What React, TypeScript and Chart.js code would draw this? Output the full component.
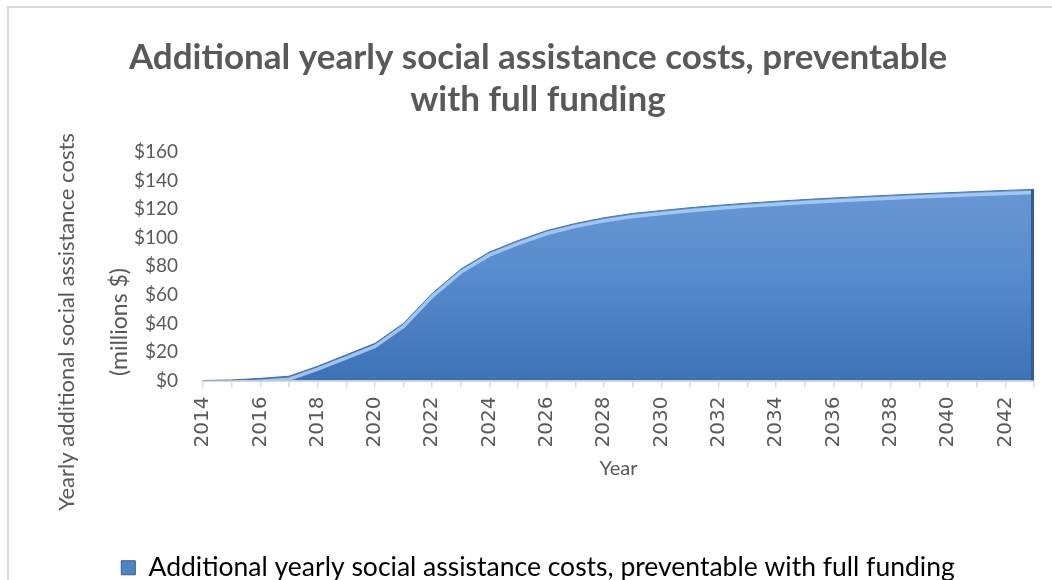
import React, { useEffect, useRef } from "react";
import { Chart, registerables } from "chart.js";

Chart.register(...registerables);

const years: string[] = [
  "2014","2015","2016","2017","2018","2019","2020","2021","2022","2023",
  "2024","2025","2026","2027","2028","2029","2030","2031","2032","2033",
  "2034","2035","2036","2037","2038","2039","2040","2041","2042","2043",
];
const costs: number[] = [
  0, 0.4, 1.5, 3, 10, 18, 26, 40, 61, 78,
  90, 98, 105, 110, 114, 117, 119, 121, 122.7, 124.2,
  125.5, 126.7, 127.8, 128.8, 129.8, 130.7, 131.5, 132.3, 133.1, 133.8,
];
const yTicks: number[] = [0, 20, 40, 60, 80, 100, 120, 140, 160];
const titleLines: string[] = [
  "Additional yearly social assistance costs, preventable",
  "with full funding",
];
const yTitleLines: string[] = ["Yearly additional social assistance costs", "(millions $)"];
const xTitle = "Year";
const seriesName = "Additional yearly social assistance costs, preventable with full funding";

const GRAY = "#595959";
const FONT = "Lato, 'Open Sans', sans-serif";

const bevelPlugin = {
  id: "bevel",
  afterDatasetsDraw(chart: any) {
    const meta = chart.getDatasetMeta(0);
    const pts = meta.data as any[];
    if (!pts.length) return;
    const ctx = chart.ctx as CanvasRenderingContext2D;
    const { left, right, top, bottom } = chart.chartArea;
    ctx.save();
    ctx.beginPath();
    ctx.rect(left, top - 10, right - left, bottom - top + 10);
    ctx.clip();
    ctx.beginPath();
    pts.forEach((p, i) => (i ? ctx.lineTo(p.x, p.y + 3) : ctx.moveTo(p.x, p.y + 3)));
    ctx.strokeStyle = "rgba(165,205,248,0.9)";
    ctx.lineWidth = 3.5;
    ctx.stroke();
    ctx.beginPath();
    pts.forEach((p, i) => (i ? ctx.lineTo(p.x, p.y) : ctx.moveTo(p.x, p.y)));
    ctx.strokeStyle = "#4a74a8";
    ctx.lineWidth = 1;
    ctx.stroke();
    const last = pts[pts.length - 1];
    ctx.beginPath();
    ctx.moveTo(last.x - 1.5, last.y);
    ctx.lineTo(last.x - 1.5, bottom);
    ctx.strokeStyle = "#2f5c94";
    ctx.lineWidth = 3;
    ctx.stroke();
    ctx.restore();
  },
};

const yTitlePlugin = {
  id: "yTitle",
  afterDraw(chart: any) {
    const ctx = chart.ctx as CanvasRenderingContext2D;
    const cy = chart.chartArea.top + 170;
    ctx.save();
    ctx.fillStyle = GRAY;
    ctx.textAlign = "center";
    ctx.textBaseline = "middle";
    const xs = [67, 120];
    const sizes = [22, 23];
    yTitleLines.forEach((t, i) => {
      ctx.save();
      ctx.font = `${sizes[i]}px ${FONT}`;
      ctx.translate(xs[i], cy);
      ctx.rotate(-Math.PI / 2);
      ctx.fillText(t, 0, 0);
      ctx.restore();
    });
    ctx.restore();
  },
};

const framePlugin = {
  id: "frame",
  beforeDraw(chart: any) {
    const ctx = chart.ctx as CanvasRenderingContext2D;
    ctx.save();
    ctx.fillStyle = "#ffffff";
    ctx.fillRect(0, 0, chart.width, chart.height);
    ctx.strokeStyle = "#d9d9d9";
    ctx.lineWidth = 2;
    ctx.beginPath();
    ctx.moveTo(8, chart.height);
    ctx.lineTo(8, 7);
    ctx.lineTo(chart.width, 7);
    ctx.stroke();
    ctx.restore();
  },
};

export default function App() {
  const ref = useRef<HTMLCanvasElement | null>(null);
  useEffect(() => {
    if (!ref.current) return;
    const chart = new Chart(ref.current, {
      type: "line",
      data: {
        labels: years,
        datasets: [
          {
            label: seriesName,
            data: costs,
            fill: "origin",
            tension: 0,
            pointRadius: 0,
            borderWidth: 0,
            borderColor: "rgba(0,0,0,0)",
            backgroundColor: (c: any) => {
              const area = c.chart.chartArea;
              if (!area) return "#4f86c6";
              const g = c.chart.ctx.createLinearGradient(0, area.top, 0, area.bottom);
              g.addColorStop(0, "#6e9bd5");
              g.addColorStop(0.5, "#5a8dcf");
              g.addColorStop(1, "#3d72b6");
              return g;
            },
          },
        ],
      },
      options: {
        responsive: false,
        animation: false,
        layout: { padding: { left: 42, right: 18, top: 0, bottom: -11 } },
        plugins: {
          title: {
            display: true,
            text: titleLines,
            color: GRAY,
            font: { family: FONT, size: 35, weight: "bold", lineHeight: 1.2 },
            padding: { top: 37, bottom: 31 },
          },
          legend: {
            position: "bottom",
            labels: {
              color: GRAY,
              font: { family: FONT, size: 26.5 },
              boxWidth: 14,
              boxHeight: 14,
              padding: 2,
              generateLabels: () => [
                {
                  text: seriesName,
                  fillStyle: "#4f83c4",
                  strokeStyle: "#2f5c94",
                  lineWidth: 1,
                  hidden: false,
                  datasetIndex: 0,
                } as any,
              ],
            },
          },
          tooltip: { enabled: false },
        },
        scales: {
          x: {
            type: "category",
            offset: false,
            afterFit: (s: any) => {
              s.height = 172;
              s.paddingRight = 0;
            },
            grid: {
              display: true,
              drawOnChartArea: false,
              drawTicks: true,
              tickLength: 7,
              color: "#d9d9d9",
              lineWidth: 1.5,
            },
            border: { display: true, color: "#d9d9d9", width: 2 },
            ticks: {
              autoSkip: false,
              maxRotation: 90,
              minRotation: 90,
              color: GRAY,
              font: { family: "'DejaVu Sans', sans-serif", size: 20 },
              padding: 9,
              callback: (_v: any, i: number) => (i % 2 === 0 ? years[i] : ""),
            },
            title: {
              display: true,
              text: xTitle,
              color: GRAY,
              font: { family: FONT, size: 20 },
              padding: { top: 4, bottom: 72 },
            },
          },
          y: {
            min: 0,
            max: 160,
            afterFit: (s: any) => {
              s.width = 161;
            },
            afterBuildTicks: (s: any) => {
              s.ticks = yTicks.map((v) => ({ value: v }));
            },
            grid: { display: false, drawTicks: false },
            border: { display: false },
            ticks: {
              color: GRAY,
              font: { family: FONT, size: 19 },
              padding: 25,
              callback: (v: any) => "$" + v,
            },
          },
        },
      },
      plugins: [framePlugin, bevelPlugin, yTitlePlugin],
    });
    return () => chart.destroy();
  }, []);
  return (
    <div style={{ position: "absolute", left: 0, top: 0, width: 1052, height: 580 }}>
      <canvas ref={ref} width={1052} height={580} style={{ display: "block" }} />
    </div>
  );
}
